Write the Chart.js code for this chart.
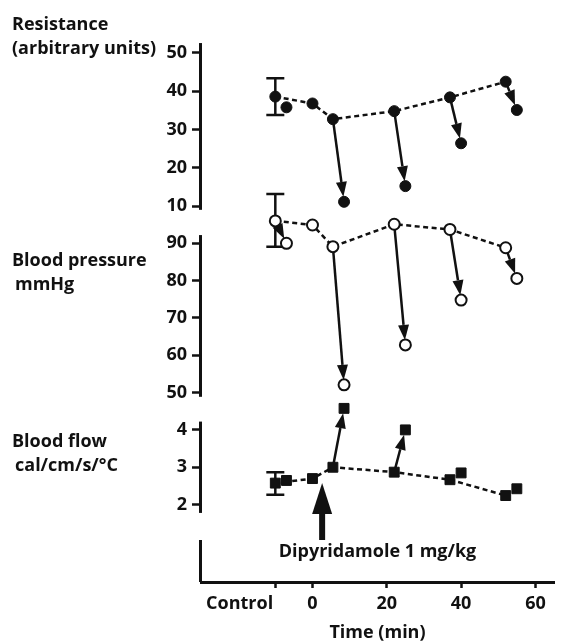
<!DOCTYPE html>
<html>
<head>
<meta charset="utf-8">
<title>Dipyridamole: resistance, pressure and flow</title>
<script src="https://cdn.jsdelivr.net/npm/chart.js@4"></script>
<style>
  html, body { margin: 0; padding: 0; background: #fff; }
  #chart { display: block; }
</style>
</head>
<body>
<canvas id="chart" width="562" height="644"></canvas>
<script>
// times in min, control reading is plotted at -10
const mainTimes = [-10, 0, 5.5, 22, 37, 52];
const afterTimes = [-7, 8.5, 25, 40, 55];
const afterOf = [0, 2, 3, 4, 5]; // main point each later reading belongs to

const resistanceMain = [38.6, 36.8, 32.7, 34.8, 38.4, 42.5];
const resistanceAfter = [35.8, 11.1, 15.2, 26.4, 35.1];
const resistanceArrows = [false, true, true, true, true];
const resistanceControlRange = [33.8, 43.4];

const pressureMain = [96.0, 94.9, 89.1, 95.1, 93.7, 88.8];
const pressureAfter = [90.0, 52.1, 62.8, 74.8, 80.6];
const pressureArrows = [true, true, true, true, true];
const pressureControlRange = [89.1, 103.2];

const flowMain = [2.58, 2.70, 3.00, 2.87, 2.67, 2.25];
const flowAfter = [2.65, 4.56, 3.99, 2.85, 2.43];
const flowArrows = [false, true, true, false, false];
const flowControlRange = [2.27, 2.87];

const resistanceTicks = [10, 20, 30, 40, 50];
const pressureTicks = [50, 60, 70, 80, 90];
const flowTicks = [2, 3, 4];
const timeTicks = [-10, 0, 20, 40, 60];
const timeTickLabels = ['Control', '0', '20', '40', '60'];

const doseTime = 2.6;
const doseLabel = 'Dipyridamole 1 mg/kg';

const INK = '#111';
const FONT = '"Open Sans", "DejaVu Sans", sans-serif';
const BOLD = { family: FONT, size: 18, weight: 'bold' };
const CONTROL_LABEL_AT = -19.6; // "Control" sits left of its tick

function pts(xs, ys) {
  return xs.map((x, i) => ({ x: x, y: ys[i] }));
}

function yAxis(ticks, min, max, weight, order) {
  return {
    type: 'linear',
    position: 'left',
    stack: 'panels',
    stackWeight: weight,
    weight: order,
    min: min,
    max: max,
    afterBuildTicks: s => { s.ticks = ticks.map(v => ({ value: v })); },
    afterFit: s => { s.width = 201; },
    border: { display: false },
    grid: { drawOnChartArea: false, tickLength: 9, tickWidth: 2.5, color: INK },
    ticks: { color: INK, padding: 5, font: BOLD, display: ticks.length > 0 }
  };
}

const panels = [
  { axis: 'yR', main: resistanceMain, after: resistanceAfter, arrows: resistanceArrows,
    range: resistanceControlRange, span: [9.0, 52.6] },
  { axis: 'yP', main: pressureMain, after: pressureAfter, arrows: pressureArrows,
    range: pressureControlRange, span: [48.9, 92.2] },
  { axis: 'yF', main: flowMain, after: flowAfter, arrows: flowArrows,
    range: flowControlRange, span: [1.79, 4.21] }
];

const panelTitles = [
  { text: 'Resistance', x: 12, y: 29.5 },
  { text: '(arbitrary units)', x: 12, y: 53.5 },
  { text: 'Blood pressure', x: 12, y: 266 },
  { text: 'mmHg', x: 15, y: 290 },
  { text: 'Blood flow', x: 12, y: 447 },
  { text: 'cal/cm/s/°C', x: 15, y: 471 }
];

function drawArrow(ctx, x0, y0, x1, y1, stop, headLen, headHalf) {
  const dx = x1 - x0, dy = y1 - y0;
  const len = Math.hypot(dx, dy);
  const ux = dx / len, uy = dy / len;
  const tx = x1 - ux * stop, ty = y1 - uy * stop;
  const bx = tx - ux * headLen, by = ty - uy * headLen;
  ctx.beginPath();
  ctx.moveTo(x0, y0);
  ctx.lineTo(bx, by);
  ctx.stroke();
  ctx.beginPath();
  ctx.moveTo(tx, ty);
  ctx.lineTo(bx - uy * headHalf, by + ux * headHalf);
  ctx.lineTo(bx + uy * headHalf, by - ux * headHalf);
  ctx.closePath();
  ctx.fill();
}

const annotations = {
  id: 'annotations',
  beforeDatasetsDraw(chart) {
    const ctx = chart.ctx;
    const xs = chart.scales.x;
    const area = chart.chartArea;
    ctx.save();
    ctx.strokeStyle = INK;
    ctx.fillStyle = INK;
    ctx.lineCap = 'butt';

    panels.forEach(p => {
      const ys = chart.scales[p.axis];
      // axis spine for this panel
      ctx.lineWidth = 3;
      ctx.beginPath();
      ctx.moveTo(area.left - 0.5, ys.getPixelForValue(p.span[1]));
      ctx.lineTo(area.left - 0.5, ys.getPixelForValue(p.span[0]));
      ctx.stroke();

      // control error bar
      const cx = xs.getPixelForValue(mainTimes[0]);
      const top = ys.getPixelForValue(p.range[1]);
      const bot = ys.getPixelForValue(p.range[0]);
      ctx.lineWidth = 2.5;
      ctx.beginPath();
      ctx.moveTo(cx, top); ctx.lineTo(cx, bot);
      ctx.moveTo(cx - 9, top); ctx.lineTo(cx + 9, top);
      ctx.moveTo(cx - 9, bot); ctx.lineTo(cx + 9, bot);
      ctx.stroke();

      // arrows from each reading to the one after the dose
      ctx.lineWidth = 2.5;
      p.after.forEach((v, i) => {
        if (!p.arrows[i]) return;
        const m = afterOf[i];
        drawArrow(ctx,
          xs.getPixelForValue(mainTimes[m]), ys.getPixelForValue(p.main[m]),
          xs.getPixelForValue(afterTimes[i]), ys.getPixelForValue(v),
          5, 15, 5.5);
      });
    });

    // left stub of the bottom frame
    ctx.lineWidth = 3;
    ctx.beginPath();
    ctx.moveTo(area.left - 0.5, area.bottom - 42);
    ctx.lineTo(area.left - 0.5, area.bottom);
    ctx.stroke();

    // dose arrow
    const dx = xs.getPixelForValue(doseTime);
    ctx.fillRect(dx - 3, area.bottom - 70, 6, 28);
    ctx.beginPath();
    ctx.moveTo(dx, area.bottom - 99);
    ctx.lineTo(dx - 10, area.bottom - 68);
    ctx.lineTo(dx + 10, area.bottom - 68);
    ctx.closePath();
    ctx.fill();
    ctx.restore();
  },
  afterDraw(chart) {
    const ctx = chart.ctx;
    const xs = chart.scales.x;
    const area = chart.chartArea;
    ctx.save();
    ctx.fillStyle = INK;
    ctx.font = 'bold 18px ' + FONT;
    ctx.textBaseline = 'alphabetic';
    ctx.textAlign = 'left';
    panelTitles.forEach(t => ctx.fillText(t.text, t.x, t.y));
    ctx.textAlign = 'center';
    ctx.fillText(doseLabel, xs.getPixelForValue(17.5), area.bottom - 25.5);
    ctx.restore();
  }
};

const lineStyle = {
  showLine: true,
  borderColor: INK,
  borderWidth: 2.5,
  borderDash: [5, 3.5]
};

new Chart(document.getElementById('chart'), {
  type: 'scatter',
  data: {
    datasets: [
      Object.assign({ data: pts(mainTimes, resistanceMain), yAxisID: 'yR', clip: false,
        pointStyle: 'circle', pointRadius: 5.5, pointBackgroundColor: INK,
        pointBorderColor: INK, pointBorderWidth: 1 }, lineStyle),
      { data: pts(afterTimes, resistanceAfter), yAxisID: 'yR', showLine: false, clip: false,
        pointStyle: 'circle', pointRadius: 5.5, pointBackgroundColor: INK,
        pointBorderColor: INK, pointBorderWidth: 1 },
      Object.assign({ data: pts(mainTimes, pressureMain), yAxisID: 'yP', clip: false,
        pointStyle: 'circle', pointRadius: 5.5, pointBackgroundColor: '#fff',
        pointBorderColor: INK, pointBorderWidth: 2 }, lineStyle),
      { data: pts(afterTimes, pressureAfter), yAxisID: 'yP', showLine: false, clip: false,
        pointStyle: 'circle', pointRadius: 5.5, pointBackgroundColor: '#fff',
        pointBorderColor: INK, pointBorderWidth: 2 },
      Object.assign({ data: pts(mainTimes, flowMain), yAxisID: 'yF', clip: false,
        pointStyle: 'rect', pointRadius: 7, pointBackgroundColor: INK,
        pointBorderColor: INK, pointBorderWidth: 1 }, lineStyle),
      { data: pts(afterTimes, flowAfter), yAxisID: 'yF', showLine: false, clip: false,
        pointStyle: 'rect', pointRadius: 7, pointBackgroundColor: INK,
        pointBorderColor: INK, pointBorderWidth: 1 }
    ]
  },
  options: {
    responsive: false,
    animation: false,
    devicePixelRatio: 1,
    layout: { padding: { top: 30, left: 0, right: 6, bottom: 0 } },
    plugins: { legend: { display: false }, tooltip: { enabled: false } },
    scales: {
      x: {
        type: 'linear',
        position: 'bottom',
        min: -30,
        max: 65,
        afterBuildTicks: s => {
          s.ticks = [{ value: CONTROL_LABEL_AT }].concat(timeTicks.map(v => ({ value: v })));
        },
        afterFit: s => { s.height = 62; },
        border: { color: INK, width: 3 },
        grid: {
          drawOnChartArea: false,
          tickLength: 6,
          tickWidth: 2.5,
          tickColor: c => (c.tick && c.tick.value === CONTROL_LABEL_AT) ? 'rgba(0,0,0,0)' : INK
        },
        ticks: {
          color: INK,
          padding: 5,
          font: BOLD,
          maxRotation: 0,
          autoSkip: false,
          callback: v => {
            if (v === CONTROL_LABEL_AT) return timeTickLabels[0];
            if (v === timeTicks[0]) return '';
            return timeTickLabels[timeTicks.indexOf(v)];
          }
        },
        title: { display: true, text: 'Time (min)', color: INK, font: BOLD, padding: { top: 0, bottom: 0 } }
      },
      yR: yAxis(resistanceTicks, 5.82, 56.01, 192, 4),
      yP: yAxis(pressureTicks, 45.37, 95.70, 188, 3),
      yF: yAxis(flowTicks, 1.417, 4.517, 117, 2),
      yD: yAxis([], 0, 1, 55, 1)
    }
  },
  plugins: [annotations]
});
</script>
</body>
</html>
